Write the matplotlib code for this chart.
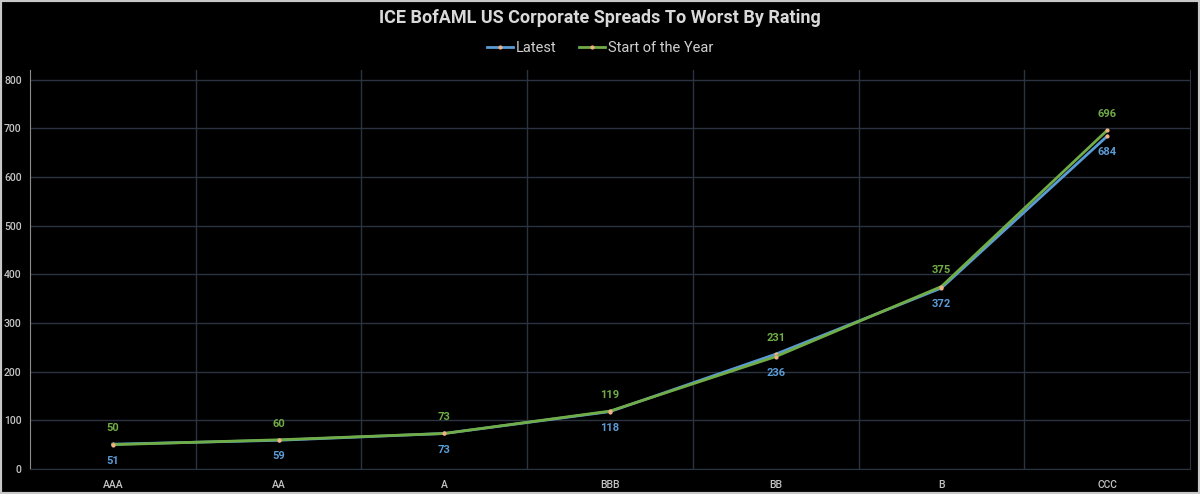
import matplotlib
matplotlib.use("Agg")
import matplotlib.pyplot as plt
from matplotlib.patches import Rectangle

categories = ["AAA", "AA", "A", "BBB", "BB", "B", "CCC"]
latest = [51, 59, 73, 118, 236, 372, 684]
start_of_year = [50, 60, 73, 119, 231, 375, 696]
yticks = [0, 100, 200, 300, 400, 500, 600, 700, 800]

BLUE = "#5b9bd5"
GREEN = "#70ad47"
GRID = "#2b3340"
TXT = "#c4c4c4"

plt.rcParams['font.family'] = ['Roboto', 'DejaVu Sans']

fig = plt.figure(figsize=(12, 4.94), dpi=100, facecolor="black")
ax = fig.add_axes([30/1200, 1-469/494, 1160/1200, (469-70)/494])
ax.set_facecolor("black")

x = list(range(len(categories)))
ax.plot(x, latest, color=BLUE, lw=2, zorder=3, label="Latest",
        marker="o", ms=2, mfc="#f4b183", mec="#f4b183")
ax.plot(x, start_of_year, color=GREEN, lw=2, zorder=4, label="Start of the Year",
        marker="o", ms=2, mfc="#f4b183", mec="#f4b183")

for xi, l, s in zip(x, latest, start_of_year):
    ax.annotate(str(s), (xi, max(l, s)), xytext=(0, 8), textcoords="offset points",
                ha="center", va="bottom", color=GREEN, fontsize=8, fontweight="bold")
    ax.annotate(str(l), (xi, min(l, s)), xytext=(0, -8), textcoords="offset points",
                ha="center", va="top", color=BLUE, fontsize=8, fontweight="bold")

ax.set_xlim(-0.5, len(categories) - 0.5)
ax.set_ylim(0, 820)
ax.set_xticks(x)
ax.set_xticklabels(categories, fontweight="medium")
ax.set_yticks(yticks)
ax.set_yticklabels([str(v) for v in yticks], fontweight="medium")
ax.set_xticks([i + 0.5 for i in x[:-1]], minor=True)
ax.grid(True, axis="y", which="major", color=GRID, lw=1)
ax.grid(True, axis="x", which="minor", color=GRID, lw=1)
ax.tick_params(axis="both", which="both", length=0, colors=TXT, labelsize=7.5)
ax.tick_params(axis="x", pad=8)
ax.tick_params(axis="y", pad=6)
ax.spines["top"].set_visible(False)
ax.spines["left"].set_color("#8c8c8c")
ax.spines["bottom"].set_color(GRID)
ax.spines["right"].set_color(GRID)
ax.set_axisbelow(True)

fig.text(0.5, 1-18/494, "ICE BofAML US Corporate Spreads To Worst By Rating",
         ha="center", va="center", color="#d9d9d9", fontsize=13, fontweight="bold")
leg = fig.legend(loc="center", bbox_to_anchor=(0.5, 1-48/494), ncol=2, frameon=False,
                 fontsize=10.5, labelcolor="#d0d0d0", handlelength=1.8, handletextpad=0.2,
                 columnspacing=1.5)

fig.patches.append(Rectangle((0, 0), 1, 1, transform=fig.transFigure, fill=False,
                             edgecolor="#c8c8c8", lw=3))

fig.savefig("out.png", dpi=100, facecolor="black")
